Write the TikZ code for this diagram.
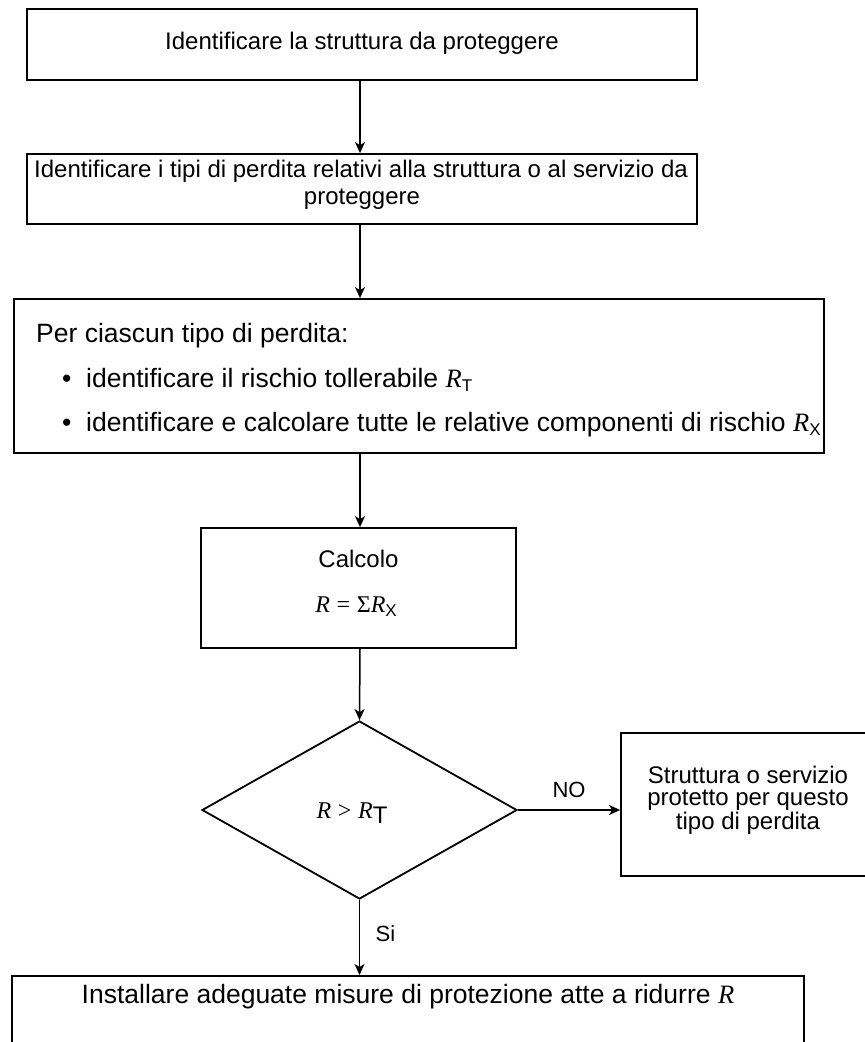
\documentclass[tikz,border=0pt]{standalone}
\usepackage{fontspec}
\setmainfont{Liberation Sans}
\newfontfamily\serifface{Liberation Serif}
\usetikzlibrary{shapes.geometric,arrows.meta}

% italic serif symbol R and its upright sans subscript
\newcommand{\Rsym}{{\serifface\itshape R}}
\newcommand{\Rsub}[1]{\Rsym\raisebox{-0.35ex}{\fontsize{17}{17}\selectfont #1}}
\newcommand{\fsTop}{\fontsize{24}{27}\selectfont}
\newcommand{\fsMid}{\fontsize{26.5}{30}\selectfont}
\newcommand{\fsLbl}{\fontsize{22}{24}\selectfont}

\tikzset{
  box/.style={draw, line width=1.8pt, rectangle, inner sep=0pt},
  decision/.style={draw, line width=1.8pt, diamond, inner sep=0pt},
  flow/.style={line width=1.5pt, -{Stealth[length=11pt,width=10pt,inset=3pt]}},
  txt/.style={inner sep=0pt, anchor=base},
  ltxt/.style={inner sep=0pt, anchor=base west},
}

\begin{document}
\begin{tikzpicture}[x=1pt,y=-1pt]
  \useasboundingbox (0,0) rectangle (865,1042);

  % step 1
  \node[box, minimum width=670pt, minimum height=71pt] (b1) at (362,44.5) {};
  \node[txt, font=\fsTop] (t1) at (362,49) {Identificare la struttura da proteggere};

  % step 2
  \node[box, minimum width=670pt, minimum height=70pt] (b2) at (362,189) {};
  \node[txt, font=\fsTop] (t2a) at (361,177) {Identificare i tipi di perdita relativi alla struttura o al servizio da};
  \node[txt, font=\fsTop] (t2b) at (362,204) {proteggere};

  % step 3
  \node[box, minimum width=810pt, minimum height=154pt] (b3) at (419,376) {};
  \node[ltxt, font=\fsMid] (t3a) at (36,342) {Per ciascun tipo di perdita:};
  \node[ltxt, font=\fsMid] (u1) at (62,387) {\textbullet};
  \node[ltxt, font=\fsMid] (t3b) at (86,387) {identificare il rischio tollerabile \Rsub{T}};
  \node[ltxt, font=\fsMid] (u2) at (62,431) {\textbullet};
  \node[ltxt, font=\fsMid] (t3c) at (86,431) {identificare e calcolare tutte le relative componenti di rischio \Rsub{X}};

  % step 4
  \node[box, minimum width=315pt, minimum height=120pt] (b4) at (358.5,588) {};
  \node[txt, font=\fsTop] (t4a) at (358.5,567) {Calcolo};
  \node[txt, font=\fsTop] (t4b) at (356,612) {\Rsym{} {\serifface =} {\serifface\char"03A3}\Rsub{X}};

  % decision
  \node[decision, minimum width=315pt, minimum height=178pt] (d) at (359.5,810) {};
  \node[txt, font=\fsTop] (td) at (352,818) {\Rsym{} {\serifface >} \Rsym\raisebox{-0.4ex}{T}};

  % outcome: no
  \node[box, minimum width=246pt, minimum height=143pt] (b5) at (744,804.5) {};
  \node[txt, font=\fsTop] (t5a) at (748,783) {Struttura o servizio};
  \node[txt, font=\fsTop] (t5b) at (748,805) {protetto per questo};
  \node[txt, font=\fsTop] (t5c) at (748,829) {tipo di perdita};

  % outcome: yes
  \node[box, minimum width=792pt, minimum height=100pt, anchor=north] (b6) at (408,975) {};
  \node[txt, font=\fsMid] (t6) at (408,1003) {Installare adeguate misure di protezione atte a ridurre \Rsym};

  % connectors
  \draw[flow] (b1.south -| 360,0) -- (b2.north -| 360,0);
  \draw[flow] (b2.south -| 360,0) -- (b3.north -| 360,0);
  \draw[flow] (b3.south -| 360,0) -- (b4.north -| 360,0);
  \draw[flow] (b4.south -| 360,0) -- (d.north);
  \draw[flow] (d.east) -- (b5.west |- d.east) node[pos=0.5, above=8pt, font=\fsLbl] (lno) {NO};
  \draw[flow] (d.south) -- (b6.north -| d.south) node[pos=0.45, right=12pt, font=\fsLbl] (lsi) {Si};
\end{tikzpicture}
\end{document}
